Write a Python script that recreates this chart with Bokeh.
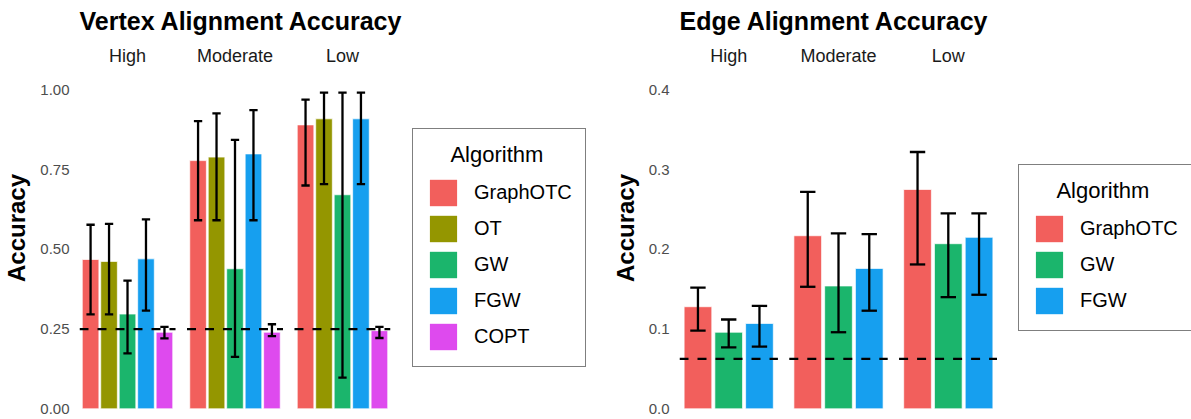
from bokeh.plotting import figure
from bokeh.models import (FactorRange, Range1d, ColumnDataSource, Legend, LegendItem,
                          FixedTicker, NumeralTickFormatter)
from bokeh.layouts import row
from bokeh.core.properties import value
from bokeh.embed import file_html
from bokeh.resources import INLINE

# ---------------- data ----------------
levels = ["High", "Moderate", "Low"]

vertex_algs = ["GraphOTC", "OT", "GW", "FGW", "COPT"]
vertex_mean = {"High": [0.468, 0.462, 0.297, 0.470, 0.240],
               "Moderate": [0.778, 0.789, 0.439, 0.799, 0.240],
               "Low": [0.890, 0.909, 0.671, 0.909, 0.245]}
vertex_lo = {"High": [0.296, 0.296, 0.174, 0.308, 0.221],
             "Moderate": [0.591, 0.591, 0.163, 0.591, 0.228],
             "Low": [0.700, 0.704, 0.098, 0.704, 0.222]}
vertex_hi = {"High": [0.577, 0.580, 0.402, 0.594, 0.257],
             "Moderate": [0.902, 0.926, 0.843, 0.936, 0.265],
             "Low": [0.969, 0.991, 0.991, 0.991, 0.257]}
vertex_chance = 0.25
vertex_ticks = [0.0, 0.25, 0.5, 0.75, 1.0]

edge_algs = ["GraphOTC", "GW", "FGW"]
edge_mean = {"High": [0.128, 0.096, 0.107],
             "Moderate": [0.217, 0.154, 0.176],
             "Low": [0.275, 0.207, 0.215]}
edge_lo = {"High": [0.098, 0.077, 0.078],
           "Moderate": [0.153, 0.096, 0.123],
           "Low": [0.181, 0.140, 0.143]}
edge_hi = {"High": [0.152, 0.112, 0.129],
           "Moderate": [0.272, 0.220, 0.219],
           "Low": [0.322, 0.245, 0.245]}
edge_chance = 0.0625
edge_ticks = [0.0, 0.1, 0.2, 0.3, 0.4]

colors = {"GraphOTC": "#F25F5C", "OT": "#949600", "GW": "#1BB56C",
          "FGW": "#169FEF", "COPT": "#DE4AEE"}

FONT = "Liberation Sans"
H = 419
TOP = 36     # space reserved above the plotting frame for the title
PAD = 0.1    # x range padding (factor units)


def panel(title, algs, mean, lo, hi, chance, ticks, fmt, y_range, strip_y,
          group_padding, cap_w, width, min_left, min_right):
    factors = [(lv, a) for lv in levels for a in algs]
    p = figure(x_range=FactorRange(*factors, factor_padding=0.0, group_padding=group_padding,
                                   range_padding=PAD, range_padding_units="absolute"),
               y_range=y_range, width=width, height=H, title=title,
               min_border_left=min_left, min_border_right=min_right,
               min_border_top=TOP, min_border_bottom=0,
               x_axis_location=None, toolbar_location=None, output_backend="svg",
               background_fill_color="white", border_fill_color="white")
    p.outline_line_color = None
    p.xgrid.grid_line_color = None
    p.ygrid.grid_line_color = None

    p.title.text_font = FONT
    p.title.text_font_size = "25px"
    p.title.text_font_style = "bold"
    p.title.text_color = "black"
    p.title.align = "left"
    p.title.vertical_align = "top"
    p.title.offset = 0
    p.title.standoff = 0

    ax = p.yaxis[0]
    ax.ticker = FixedTicker(ticks=ticks)
    ax.formatter = NumeralTickFormatter(format=fmt)
    ax.axis_line_color = None
    ax.major_tick_line_color = None
    ax.minor_tick_line_color = None
    ax.major_tick_out = 0
    ax.major_tick_in = 0
    ax.major_label_standoff = 10
    ax.major_label_text_font = FONT
    ax.major_label_text_font_size = "15px"
    ax.major_label_text_color = "#4D4D4D"
    ax.axis_label = "Accuracy"
    ax.axis_label_text_font = FONT
    ax.axis_label_text_font_style = "bold"
    ax.axis_label_text_font_size = "24px"
    ax.axis_label_text_color = "black"
    ax.axis_label_standoff = 7

    for i, a in enumerate(algs):
        src = ColumnDataSource(dict(x=[(lv, a) for lv in levels],
                                    top=[mean[lv][i] for lv in levels]))
        p.vbar(x="x", top="top", width=0.9, bottom=0, source=src,
               fill_color=colors[a], line_color="white", line_width=0.7)

    # chance level dashed line (one per facet)
    p.segment(x0=[(lv, algs[0], -0.6) for lv in levels],
              y0=[chance] * len(levels),
              x1=[(lv, algs[-1], 0.6) for lv in levels],
              y1=[chance] * len(levels),
              line_color="black", line_width=2.2, line_dash="9 9")

    # error bars
    xs, l, h = [], [], []
    for lv in levels:
        for i, a in enumerate(algs):
            xs.append((lv, a)); l.append(lo[lv][i]); h.append(hi[lv][i])
    p.segment(x0=xs, y0=l, x1=xs, y1=h, line_color="black", line_width=2.3)
    p.segment(x0=[(x[0], x[1], -cap_w / 2) for x in xs], y0=l,
              x1=[(x[0], x[1], cap_w / 2) for x in xs], y1=l,
              line_color="black", line_width=2.3)
    p.segment(x0=[(x[0], x[1], -cap_w / 2) for x in xs], y0=h,
              x1=[(x[0], x[1], cap_w / 2) for x in xs], y1=h,
              line_color="black", line_width=2.3)

    # facet strip labels
    p.text(x=levels, y=[strip_y] * len(levels), text=levels,
           text_font=value(FONT), text_font_size="18px", text_color="#1A1A1A",
           text_align="center", text_baseline="middle")
    return p


def legend_fig(algs, width, loc):
    q = figure(x_range=Range1d(0, 1), y_range=Range1d(0, 1), width=width, height=H,
               min_border_left=0, min_border_right=0, min_border_top=0, min_border_bottom=0,
               x_axis_location=None, y_axis_location=None,
               toolbar_location=None, output_backend="svg",
               background_fill_color="white", border_fill_color="white")
    q.outline_line_color = None
    q.xgrid.grid_line_color = None
    q.ygrid.grid_line_color = None
    items = []
    for a in algs:
        # zero-height proxy bar: only serves as the legend swatch
        r = q.vbar(x=[0.5], top=[0.0], bottom=0.0, width=0.0, fill_color=colors[a],
                   line_color="white", line_width=0.7, line_alpha=0.0)
        items.append(LegendItem(label=a, renderers=[r]))
    leg = Legend(items=items, location=loc, title="\u00a0\u00a0\u00a0\u00a0Algorithm",
                 orientation="vertical", margin=0, padding=13, spacing=3,
                 glyph_width=34, glyph_height=33, label_height=33, label_standoff=14,
                 label_text_font=FONT, label_text_font_size="20px", label_text_color="black",
                 title_text_font=FONT, title_text_font_size="22px", title_text_color="black",
                 title_text_font_style="normal", title_standoff=8,
                 border_line_color="black", border_line_width=1.3,
                 background_fill_color="white", background_fill_alpha=1.0)
    q.add_layout(leg, "center")
    return q


p1 = panel("Vertex Alignment Accuracy", vertex_algs, vertex_mean, vertex_lo, vertex_hi,
           vertex_chance, vertex_ticks, "0.00", Range1d(-0.03354, 1.16708), 1.10502,
           0.82, 0.45, 410, 79, 20)
l1 = legend_fig(vertex_algs, 190, (2, 52))
p2 = panel("Edge Alignment Accuracy", edge_algs, edge_mean, edge_lo, edge_hi,
           edge_chance, edge_ticks, "0.0", Range1d(-0.013417, 0.46683), 0.44201,
           0.57, 0.5, 397, 79, 0)
l2 = legend_fig(edge_algs, 194, (21, 88))

layout = row(p1, l1, p2, l2, spacing=0)
open("out.html", "w").write(file_html(layout, INLINE))
